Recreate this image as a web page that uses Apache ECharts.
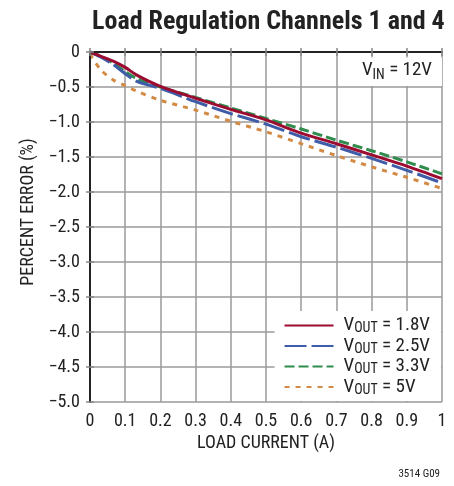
<!DOCTYPE html>
<html><head><meta charset="utf-8">
<script src="https://cdn.jsdelivr.net/npm/echarts@6/dist/echarts.min.js"></script>
<style>html,body{margin:0;padding:0;background:#fff}#c{width:454px;height:486px}</style>
</head><body><div id="c"></div>
<script>
var loadCurrent = [0, 0.03, 0.066, 0.1, 0.133, 0.2, 0.3, 0.4, 0.5, 0.6, 0.7, 0.8, 0.9, 1.0];
var vout18 = [0, -0.06, -0.13, -0.22, -0.33, -0.49, -0.66, -0.82, -0.97, -1.16, -1.31, -1.47, -1.63, -1.81];
var vout25 = [0, -0.07, -0.18, -0.31, -0.42, -0.52, -0.71, -0.88, -1.03, -1.21, -1.36, -1.52, -1.69, -1.87];
var vout33 = [0, -0.06, -0.16, -0.28, -0.38, -0.50, -0.65, -0.80, -0.95, -1.10, -1.26, -1.41, -1.57, -1.74];
var vout5  = [-0.03, -0.25, -0.40, -0.48, -0.56, -0.69, -0.83, -0.99, -1.14, -1.31, -1.48, -1.64, -1.79, -1.95];
var seriesNames = ['1.8V', '2.5V', '3.3V', '5V'];
var xTicks = ['0','0.1','0.2','0.3','0.4','0.5','0.6','0.7','0.8','0.9','1'];

var FONT = '"Liberation Sans Narrow","Roboto Condensed","Arial Narrow",sans-serif';
function pts(ys){ return loadCurrent.map(function(x,i){ return [x, ys[i]]; }); }
var chart = echarts.init(document.getElementById('c'), null, {renderer:'canvas'});
var styles = [
  {color:'#9c0b30', type:'solid'},
  {color:'#3f5ca8', type:[22,5]},
  {color:'#2f8c4c', type:[10,4]},
  {color:'#d28a45', type:[5,6]}
];
var data = [vout18, vout25, vout33, vout5];
var series = data.map(function(d,i){
  return {
    name: seriesNames[i], type:'line', data: pts(d), symbol:'none', smooth:0.3,
    lineStyle:{color:styles[i].color, width:3, type:styles[i].type},
    itemStyle:{color:styles[i].color}, z: 5 - i
  };
});
function axisCommon(){
  return {
    axisLine:{show:true, lineStyle:{color:'#222', width:1.5}},
    axisTick:{show:true, inside:true, length:4, lineStyle:{color:'#888', width:1.5}},
    splitLine:{show:false}, axisLabel:{show:false}, z:10
  };
}
var option = {
  animation:false,
  title:[
    {text:'Load Regulation Channels 1 and 4', left:87, top:4,
     textStyle:{fontFamily:FONT, fontWeight:'bold', fontSize:26, color:'#222'}},
    {text:'{a|V}{b|IN}{a| = 12V}', right:12, top:55, backgroundColor:'#fff', padding:[3,10,4,18],
     textStyle:{fontWeight:'normal', rich:{a:{fontFamily:FONT, fontWeight:'normal', fontSize:19, color:'#222', lineHeight:24},
                      b:{fontFamily:FONT, fontWeight:'normal', fontSize:14, color:'#222', lineHeight:14, verticalAlign:'bottom'}}}}
  ],
  grid:{left:90, top:52, right:12, bottom:84},
  legend:{
    orient:'vertical', right:13, bottom:85, backgroundColor:'#fff',
    padding:[5,11,4,9], itemGap:1, itemWidth:49, itemHeight:14,
    data: seriesNames,
    itemStyle:{opacity:0},
    formatter:function(n){ return '{a|V}{b|OUT}{a| = ' + n + '}'; },
    textStyle:{padding:[0,0,0,5], rich:{a:{fontFamily:FONT, fontSize:19, color:'#222', lineHeight:20},
                     b:{fontFamily:FONT, fontSize:14, color:'#222', lineHeight:12, verticalAlign:'bottom'}}}
  },
  xAxis:[
    {type:'value', min:0, max:1, interval:0.1, position:'bottom',
     name:'LOAD CURRENT (A)', nameLocation:'middle', nameGap:31,
     nameTextStyle:{fontFamily:FONT, fontSize:18, color:'#222'},
     axisLine:{show:true, lineStyle:{color:'#222', width:1.5}},
     axisTick:{show:false},
     axisLabel:{fontFamily:FONT, fontSize:18, color:'#222', margin:10,
       formatter:function(v){ var i=Math.round(v*10); return xTicks[i]; }},
     splitLine:{show:true, lineStyle:{color:'#9a9a9a', width:1.5}}},
    Object.assign(axisCommon(), {type:'value', min:0, max:1, interval:0.1, position:'bottom'}),
    Object.assign(axisCommon(), {type:'value', min:0, max:1, interval:0.1, position:'top'})
  ],
  yAxis:[
    {type:'value', min:-5, max:0, interval:0.5, position:'left',
     name:'PERCENT ERROR (%)', nameLocation:'middle', nameGap:53,
     nameTextStyle:{fontFamily:FONT, fontSize:18, color:'#222', padding:[0,0,0,30]},
     axisLine:{show:true, lineStyle:{color:'#222', width:1.5}},
     axisTick:{show:false},
     axisLabel:{fontFamily:FONT, fontSize:18, color:'#222', margin:10,
       formatter:function(v){ if (Math.abs(v)<1e-9) return '0'; return '\u2212' + Math.abs(v).toFixed(1); }},
     splitLine:{show:true, lineStyle:{color:'#9a9a9a', width:1.5}}},
    Object.assign(axisCommon(), {type:'value', min:-5, max:0, interval:0.5, position:'right'}),
    Object.assign(axisCommon(), {type:'value', min:-5, max:0, interval:0.5, position:'left'})
  ],
  graphic:[
    {type:'text', right:14, bottom:6, style:{text:'3514 G09', fontFamily:FONT, fontSize:11, fill:'#222'}}
  ],
  series: series
};
chart.setOption(option);
</script></body></html>
